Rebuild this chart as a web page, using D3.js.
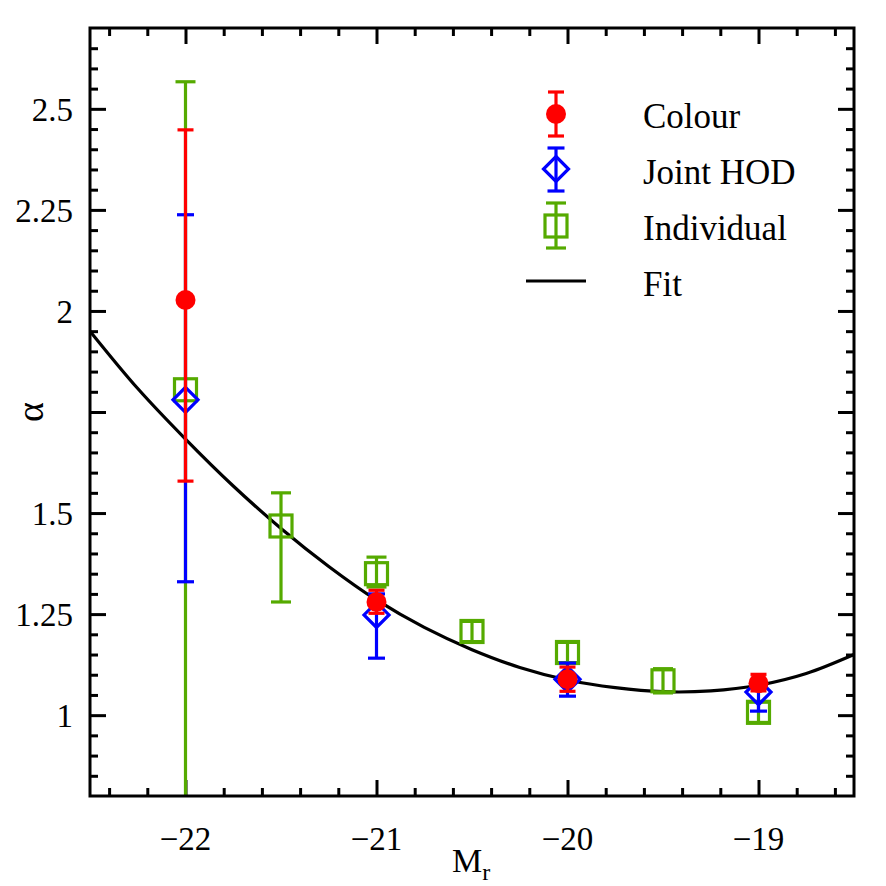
<!DOCTYPE html>
<html>
<head>
<meta charset="utf-8">
<script src="https://cdn.jsdelivr.net/npm/d3@7"></script>
<style>
  html, body { margin: 0; padding: 0; background: #fff; }
  svg { display: block; font-family: "Liberation Serif", "DejaVu Serif", serif; }
</style>
</head>
<body>
<svg id="chart" width="886" height="886"></svg>
<script>
// ---- data ----
var xDomain = [-22.5, -18.5];
var yDomain = [0.8, 2.7];
var xMajorTicks = [-22, -21, -20, -19];
var xTickLabels = ["\u221222", "\u221221", "\u221220", "\u221219"];
var yMajorTicks = [1, 1.25, 1.5, 1.75, 2, 2.25, 2.5];
var yTickLabels = ["1", "1.25", "1.5", "", "2", "2.25", "2.5"];

var colourM = [-22, -21, -20, -19];
var colourAlpha = [2.027, 1.280, 1.089, 1.079];
var colourLo = [1.579, 1.252, 1.059, 1.060];
var colourHi = [2.448, 1.309, 1.119, 1.101];

var jointM = [-22, -21, -20, -19];
var jointAlpha = [1.780, 1.248, 1.089, 1.057];
var jointLo = [1.330, 1.141, 1.047, 1.010];
var jointHi = [2.238, 1.300, 1.129, 1.075];

var indivM = [-22, -21.5, -21, -20.5, -20, -19.5, -19];
var indivAlpha = [1.805, 1.468, 1.350, 1.207, 1.155, 1.085, 1.007];
var indivLo = [0.60, 1.280, 1.317, 1.182, 1.130, 1.055, 0.982];
var indivHi = [2.567, 1.550, 1.391, 1.232, 1.180, 1.115, 1.032];

var fitM = [-22.5, -22.25, -22, -21.75, -21.5, -21.25, -21, -20.75, -20.5, -20.25, -20, -19.75, -19.5, -19.25, -19, -18.75, -18.5];
var fitAlpha = [1.950, 1.808, 1.683, 1.567, 1.462, 1.368, 1.285, 1.217, 1.162, 1.118, 1.087, 1.068, 1.058, 1.060, 1.074, 1.103, 1.150];

var legendNames = ["Colour", "Joint HOD", "Individual", "Fit"];

// ---- layout ----
var L = 90, R = 854, T = 28, B = 796;
var svg = d3.select("#chart");
var x = d3.scaleLinear().domain(xDomain).range([L, R]);
var y = d3.scaleLinear().domain(yDomain).range([B, T]);

var RED = "#ff0000", BLUE = "#0000ff", GREEN = "#55aa00";

svg.append("defs").append("clipPath").attr("id", "plotclip")
  .append("rect").attr("x", L).attr("y", T).attr("width", R - L).attr("height", B - T);

// minor tick positions (every 0.2 in x, 0.05 in y), majors removed
var xMinor = d3.range(-22.4, -18.5, 0.2).filter(function (v) { return Math.abs(v - Math.round(v)) > 1e-6; });
var yMinor = d3.range(0.85, 2.7, 0.05).filter(function (v) { return Math.abs(v * 4 - Math.round(v * 4)) > 1e-6; });

function ticks(axisFn, scale, vals, size, tx, ty) {
  var g = svg.append("g").attr("transform", "translate(" + tx + "," + ty + ")")
    .call(axisFn(scale).tickValues(vals).tickSize(-size).tickFormat(""));
  g.select(".domain").remove();
  g.selectAll("line").attr("stroke", "#000").attr("stroke-width", 3);
  return g;
}
ticks(d3.axisBottom, x, xMajorTicks, 16, 0, B);
ticks(d3.axisBottom, x, xMinor, 8, 0, B);
ticks(d3.axisTop, x, xMajorTicks, 16, 0, T);
ticks(d3.axisTop, x, xMinor, 8, 0, T);
ticks(d3.axisLeft, y, yMajorTicks, 16, L, 0);
ticks(d3.axisLeft, y, yMinor, 8, L, 0);
ticks(d3.axisRight, y, yMajorTicks, 16, R, 0);
ticks(d3.axisRight, y, yMinor, 8, R, 0);

// tick labels
svg.append("g").selectAll("text").data(xMajorTicks).join("text")
  .attr("x", function (d) { return x(d); }).attr("y", 850)
  .attr("text-anchor", "middle").attr("font-size", 33)
  .text(function (d, i) { return xTickLabels[i]; });
svg.append("g").selectAll("text").data(yMajorTicks).join("text")
  .attr("x", 73).attr("y", function (d) { return y(d) + 12; })
  .attr("text-anchor", "end").attr("font-size", 33)
  .text(function (d, i) { return yTickLabels[i]; });

// axis titles
var xt = svg.append("text").attr("x", 452).attr("y", 872).attr("font-size", 34).text("M");
xt.append("tspan").attr("dy", 8).attr("font-size", 24).text("r");
svg.append("text").attr("transform", "translate(43,412) rotate(-90)")
  .attr("text-anchor", "middle").attr("font-size", 38).text("\u03b1");

// ---- plot contents ----
var plot = svg.append("g").attr("clip-path", "url(#plotclip)");

var line = d3.line().x(function (d) { return x(d[0]); }).y(function (d) { return y(d[1]); }).curve(d3.curveCatmullRom);
plot.append("path").datum(d3.zip(fitM, fitAlpha)).attr("d", line)
  .attr("fill", "none").attr("stroke", "#000").attr("stroke-width", 3.2);

function errbar(g, cx, y0, y1, half, col) {
  g.append("line").attr("x1", cx).attr("x2", cx).attr("y1", y0).attr("y2", y1).attr("stroke", col).attr("stroke-width", 3.2);
  [y0, y1].forEach(function (yy) {
    g.append("line").attr("x1", cx - half).attr("x2", cx + half).attr("y1", yy).attr("y2", yy).attr("stroke", col).attr("stroke-width", 3.2);
  });
}
function square(g, cx, cy) {
  g.append("rect").attr("x", cx - 11).attr("y", cy - 11).attr("width", 22).attr("height", 22)
    .attr("fill", "none").attr("stroke", GREEN).attr("stroke-width", 3.2);
}
function diamond(g, cx, cy) {
  var r = 12.5;
  g.append("path").attr("d", "M" + cx + "," + (cy - r) + "L" + (cx + r) + "," + cy + "L" + cx + "," + (cy + r) + "L" + (cx - r) + "," + cy + "Z")
    .attr("fill", "none").attr("stroke", BLUE).attr("stroke-width", 3.2);
}
function dot(g, cx, cy) {
  g.append("circle").attr("cx", cx).attr("cy", cy).attr("r", 10).attr("fill", RED);
}

indivM.forEach(function (m, i) {
  errbar(plot, x(m), y(indivLo[i]), y(indivHi[i]), 10, GREEN);
  square(plot, x(m), y(indivAlpha[i]));
});
jointM.forEach(function (m, i) {
  errbar(plot, x(m), y(jointLo[i]), y(jointHi[i]), 8.5, BLUE);
  diamond(plot, x(m), y(jointAlpha[i]));
});
colourM.forEach(function (m, i) {
  errbar(plot, x(m), y(colourLo[i]), y(colourHi[i]), 8, RED);
  dot(plot, x(m), y(colourAlpha[i]));
});

// ---- legend ----
var lg = svg.append("g");
var lx = 556, tx = 643;
errbar(lg, lx, 92, 136, 8, RED); dot(lg, lx, 114);
errbar(lg, lx, 148, 191, 8.5, BLUE); diamond(lg, lx, 169);
errbar(lg, lx, 203, 248, 10, GREEN); square(lg, lx, 226);
lg.append("line").attr("x1", 526).attr("x2", 586).attr("y1", 281).attr("y2", 281).attr("stroke", "#000").attr("stroke-width", 3.2);
lg.selectAll("text.lbl").data(legendNames).join("text").attr("class", "lbl")
  .attr("x", tx).attr("y", function (d, i) { return 128 + i * 56; })
  .attr("font-size", 35).text(function (d) { return d; });

// frame
svg.append("rect").attr("x", L).attr("y", T).attr("width", R - L).attr("height", B - T)
  .attr("fill", "none").attr("stroke", "#000").attr("stroke-width", 3);
</script>
</body>
</html>
